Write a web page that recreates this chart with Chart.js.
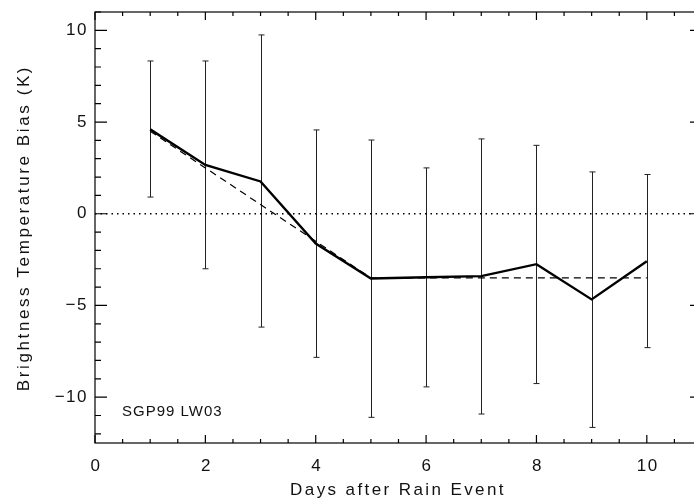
<!DOCTYPE html>
<html>
<head>
<meta charset="utf-8">
<script src="https://cdn.jsdelivr.net/npm/chart.js@4.4.1/dist/chart.umd.min.js"></script>
<style>
  html, body { margin: 0; padding: 0; background: #fff; overflow: hidden; width: 694px; height: 500px; }
  canvas { display: block; }
</style>
</head>
<body>
<canvas id="biasChart" width="702" height="500" style="width:702px;height:500px"></canvas>
<script>
// days after rain, mean bias, fitted trend, error bar limits (K)
const days = [1, 2, 3, 4, 5, 6, 7, 8, 9, 10];
const meanBias = [4.6, 2.66, 1.76, -1.63, -3.53, -3.46, -3.4, -2.75, -4.67, -2.59];
const fitBias = [4.5, 2.5, 0.5, -1.5, -3.5, -3.5, -3.5, -3.5, -3.5, -3.5];
const errUpper = [8.33, 8.33, 9.75, 4.57, 4.02, 2.5, 4.08, 3.73, 2.28, 2.14];
const errLower = [0.91, -3.0, -6.18, -7.83, -11.1, -9.44, -10.92, -9.26, -11.65, -7.3];

const xTicks = [0, 2, 4, 6, 8, 10];
const yTicks = [-10, -5, 0, 5, 10];
const xRange = [0, 11];
const yRange = [-12.5, 11];

const FONT = '"Liberation Sans", "DejaVu Sans", sans-serif';

const errorBars = {
  id: 'errorBars',
  beforeDatasetsDraw(chart) {
    const { ctx, scales: { x, y } } = chart;
    ctx.save();
    ctx.strokeStyle = '#222';
    ctx.lineWidth = 1;
    days.forEach((d, i) => {
      const px = Math.round(x.getPixelForValue(d)) + 0.5;
      const top = y.getPixelForValue(errUpper[i]);
      const bot = y.getPixelForValue(errLower[i]);
      ctx.beginPath();
      ctx.moveTo(px, top);
      ctx.lineTo(px, bot);
      ctx.moveTo(px - 3, top);
      ctx.lineTo(px + 3, top);
      ctx.moveTo(px - 3, bot);
      ctx.lineTo(px + 3, bot);
      ctx.stroke();
    });
    ctx.restore();
  }
};

// box, inward ticks, labels (IDL style frame)
const frame = {
  id: 'frame',
  afterDraw(chart) {
    const { ctx, chartArea: a, scales: { x, y } } = chart;
    ctx.save();
    ctx.strokeStyle = '#000';
    ctx.lineWidth = 1.2;
    ctx.strokeRect(a.left, a.top, a.right - a.left, a.bottom - a.top);

    ctx.beginPath();
    for (let v = 0; v <= 11; v += 0.5) {
      const px = x.getPixelForValue(v);
      const len = v % 2 === 0 ? 8 : 4;
      ctx.moveTo(px, a.bottom); ctx.lineTo(px, a.bottom - len);
      ctx.moveTo(px, a.top); ctx.lineTo(px, a.top + len);
    }
    for (let v = -12; v <= 11; v += 1) {
      const py = y.getPixelForValue(v);
      const len = v % 5 === 0 ? 12 : 6;
      ctx.moveTo(a.left, py); ctx.lineTo(a.left + len, py);
      ctx.moveTo(a.right, py); ctx.lineTo(a.right - len, py);
    }
    ctx.stroke();

    ctx.fillStyle = '#111';
    ctx.font = '17px ' + FONT;
    ctx.letterSpacing = '1.5px';
    ctx.textAlign = 'center';
    ctx.textBaseline = 'middle';
    xTicks.forEach(v => ctx.fillText(String(v), x.getPixelForValue(v) + 1, 466));
    ctx.textAlign = 'right';
    yTicks.forEach(v => ctx.fillText(v < 0 ? '\u2212' + Math.abs(v) : String(v), a.left - 7, y.getPixelForValue(v)));

    ctx.letterSpacing = '2.4px';
    ctx.textAlign = 'center';
    ctx.fillText('Days after Rain Event', 398, 490);
    ctx.save();
    ctx.translate(24, 228);
    ctx.rotate(-Math.PI / 2);
    ctx.letterSpacing = '2.6px';
    ctx.fillText('Brightness Temperature Bias (K)', 0, 0);
    ctx.restore();

    ctx.font = '15px ' + FONT;
    ctx.letterSpacing = '1px';
    ctx.textAlign = 'left';
    ctx.fillText('SGP99 LW03', 122, 412);
    ctx.restore();
  }
};

new Chart(document.getElementById('biasChart'), {
  type: 'line',
  data: {
    datasets: [
      {
        label: 'zero',
        data: [{ x: xRange[0], y: 0 }, { x: xRange[1], y: 0 }],
        borderColor: '#000',
        borderWidth: 1.3,
        borderDash: [1.5, 4],
        pointRadius: 0,
      },
      {
        label: 'fit',
        data: days.map((d, i) => ({ x: d, y: fitBias[i] })),
        borderColor: '#000',
        borderWidth: 1.2,
        borderDash: [7, 5],
        pointRadius: 0,
        tension: 0,
      },
      {
        label: 'mean',
        data: days.map((d, i) => ({ x: d, y: meanBias[i] })),
        borderColor: '#000',
        borderWidth: 2.4,
        pointRadius: 0,
        tension: 0,
      },
    ],
  },
  options: {
    responsive: false,
    animation: false,
    layout: { padding: { left: 95, top: 12, right: 0, bottom: 57 } },
    scales: {
      x: { type: 'linear', min: xRange[0], max: xRange[1], display: false },
      y: { type: 'linear', min: yRange[0], max: yRange[1], display: false },
    },
    plugins: { legend: { display: false }, tooltip: { enabled: false } },
  },
  plugins: [errorBars, frame],
});
</script>
</body>
</html>
